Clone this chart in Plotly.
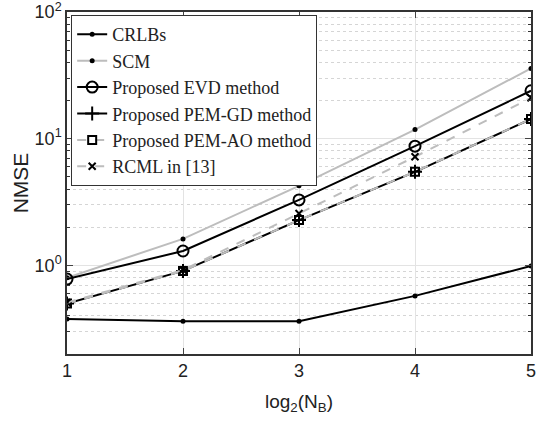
import plotly.graph_objects as go
import numpy as np

x = [1, 2, 3, 4, 5]
crlb = [0.377, 0.362, 0.363, 0.575, 0.99]
scm = [0.80, 1.62, 4.25, 11.8, 35.9]
evd = [0.78, 1.30, 3.29, 8.74, 23.9]
pem_gd = [0.50, 0.905, 2.28, 5.48, 14.3]
pem_ao = [0.50, 0.905, 2.28, 5.48, 14.3]
rcml = [0.51, 0.92, 2.57, 7.2, 21.0]

fig = go.Figure()
fig.add_trace(go.Scatter(x=x, y=crlb, name="CRLBs", mode="lines+markers",
                         line=dict(color="black", width=2),
                         marker=dict(symbol="circle", size=5, color="black")))
fig.add_trace(go.Scatter(x=x, y=scm, name="SCM", mode="lines+markers",
                         line=dict(color="#BDBDBD", width=2),
                         marker=dict(symbol="circle", size=5, color="black")))
fig.add_trace(go.Scatter(x=x, y=evd, name="Proposed EVD method", mode="lines+markers",
                         line=dict(color="black", width=2),
                         marker=dict(symbol="circle-open", size=11, color="black", line=dict(width=2))))
fig.add_trace(go.Scatter(x=x, y=pem_gd, name="Proposed PEM-GD method", mode="lines+markers",
                         line=dict(color="black", width=2),
                         marker=dict(symbol="cross-thin", size=10, color="black", line=dict(width=2, color="black"))))
fig.add_trace(go.Scatter(x=x, y=pem_ao, name="Proposed PEM-AO method", mode="lines+markers",
                         line=dict(color="#BDBDBD", width=2, dash="dash"),
                         marker=dict(symbol="square-open", size=8, color="black", line=dict(width=2))))
fig.add_trace(go.Scatter(x=x, y=rcml, name="RCML in [13]", mode="lines+markers",
                         line=dict(color="#BDBDBD", width=2, dash="dash"),
                         marker=dict(symbol="x-thin", size=7, color="black", line=dict(width=2, color="black"))))

minor_vals = [v * 10 ** e for e in (-1, 0, 1) for v in range(2, 10) if v * 10 ** e >= 0.2]

fig.update_layout(
    width=538, height=429,
    margin=dict(l=67, r=7, t=12, b=75),
    plot_bgcolor="white", paper_bgcolor="white",
    font=dict(family="Liberation Sans, Arial", size=18, color="#222"),
    showlegend=True,
    legend=dict(x=0.009, y=0.991, xanchor="left", yanchor="top",
                bgcolor="white", bordercolor="#333", borderwidth=1,
                font=dict(family="Liberation Serif, Times New Roman", size=18, color="#222"),
                tracegroupgap=0, itemwidth=30),
    xaxis=dict(range=[1, 5], tickvals=[1, 2, 3, 4, 5], ticks="inside", ticklen=6,
               automargin=False, ticklabeloverflow="allow",
               showline=True, linecolor="#333", linewidth=1.5, mirror="ticks",
               showgrid=True, gridcolor="#E3E3E3", gridwidth=1, zeroline=False,
               title=dict(text="log<sub>2</sub>(N<sub>B</sub>)", font=dict(size=19), standoff=14)),
    yaxis=dict(type="log", range=[np.log10(0.2), 2], tickvals=[1, 10, 100],
               ticktext=["10<sup>0</sup>", "10<sup>1</sup>", "10<sup>2</sup>"],
               ticks="inside", ticklen=6, automargin=False, ticklabeloverflow="allow",
               showline=True, linecolor="#333", linewidth=1.5, mirror="ticks",
               showgrid=True, gridcolor="#E3E3E3", gridwidth=1, zeroline=False,
               minor=dict(tickvals=minor_vals, ticks="inside", ticklen=3, tickcolor="#333",
                          showgrid=True, gridcolor="#D5D5D5", griddash="dot", gridwidth=1),
               title=dict(text="NMSE", font=dict(size=21), standoff=0)),
)

fig.write_html("out.html")
